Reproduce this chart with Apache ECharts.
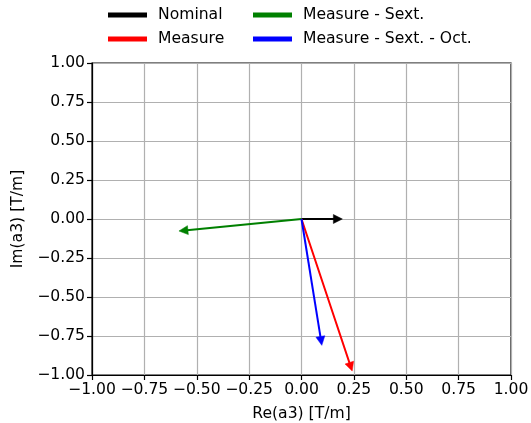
<!DOCTYPE html>
<html><head><meta charset="utf-8">
<script src="https://cdn.jsdelivr.net/npm/echarts@6/dist/echarts.min.js"></script>
<style>html,body{margin:0;padding:0;background:#fff;width:100%;height:100%;overflow:hidden}#c{width:531px;height:423px}</style>
</head><body><div id="c"></div>
<script>
var seriesNames = ['Nominal', 'Measure', 'Measure - Sext.', 'Measure - Sext. - Oct.'];
var seriesColors = ['#000000', '#ff0000', '#008000', '#0000ff'];
// vector start (re, im) and end (re, im)
var startRe = [0, 0, 0, 0];
var startIm = [0, 0, 0, 0];
var endRe = [0.195, 0.242, -0.585, 0.097];
var endIm = [0.0, -0.975, -0.077, -0.81];
var tickValues = [-1, -0.75, -0.5, -0.25, 0, 0.25, 0.5, 0.75, 1];

var FONT = '"DejaVu Sans"';
var FS = 15.6;
function fmt(v){ var s = Math.abs(v).toFixed(2); return (v < 0 ? '\u2212' : '') + s; }

function arrowItem(color){
  return function(params, api){
    var p0 = api.coord([api.value(0), api.value(1)]);
    var p1 = api.coord([api.value(2), api.value(3)]);
    var dx = p1[0]-p0[0], dy = p1[1]-p0[1];
    var L = Math.sqrt(dx*dx+dy*dy);
    var ux = dx/L, uy = dy/L, nx = -uy, ny = ux;
    var hl = 9, hw = 4.5;
    var bx = p1[0]-ux*hl, by = p1[1]-uy*hl;
    return {type:'group', children:[
      {type:'line', shape:{x1:p0[0], y1:p0[1], x2:bx+ux*1, y2:by+uy*1}, style:{stroke:color, lineWidth:2}},
      {type:'polygon', shape:{points:[[p1[0],p1[1]],[bx+nx*hw,by+ny*hw],[bx-nx*hw,by-ny*hw]]}, style:{fill:color, stroke:color, lineWidth:0.5}}
    ]};
  };
}

var series = seriesNames.map(function(n,i){
  return {type:'custom', name:n, renderItem: arrowItem(seriesColors[i]),
    itemStyle:{color:seriesColors[i]},
    encode:{x:[0,2], y:[1,3]},
    data:[[startRe[i], startIm[i], endRe[i], endIm[i]]], z:5};
});

var legendPos = [[108,7],[108,31],[253,7],[253,31]];
var legends = seriesNames.map(function(n,i){
  return {data:[{name:n, icon:'rect'}], left:legendPos[i][0], top:legendPos[i][1], itemWidth:39, itemHeight:5, itemGap:0,
    textStyle:{fontFamily:FONT, fontSize:FS, color:'#000', padding:[0,0,0,6]}, padding:0, selectedMode:false};
});

function axisCommon(name, isX){
  return {
    type:'value', min:-1, max:1, interval:0.25,
    name:name, nameLocation:'middle', nameGap: isX ? 31 : 66,
    nameTextStyle:{fontFamily:FONT, fontSize:FS, color:'#000'},
    axisLine:{show:true, onZero:false, lineStyle:{color:'#000', width:1.2}},
    axisTick:{show:true, length:5, lineStyle:{color:'#000', width:1.2}},
    axisLabel:{fontFamily:FONT, fontSize:FS, color:'#000', margin: isX ? 7 : 7, formatter: fmt},
    splitLine:{show:true, lineStyle:{color:'#b0b0b0', width:1.2}}
  };
}

var chart = echarts.init(document.getElementById('c'), null, {renderer:'canvas', width:531, height:423});
chart.setOption({
  animation:false,
  backgroundColor:'#fff',
  legend: legends,
  grid:{left:92, right:20, top:63, bottom:48, outerBoundsMode:'none', containLabel:false, show:true, borderColor:'#000', borderWidth:1.2, backgroundColor:'transparent'},
  xAxis: axisCommon('Re(a3) [T/m]', true),
  yAxis: axisCommon('Im(a3) [T/m]', false),
  series: series
});
</script></body></html>
